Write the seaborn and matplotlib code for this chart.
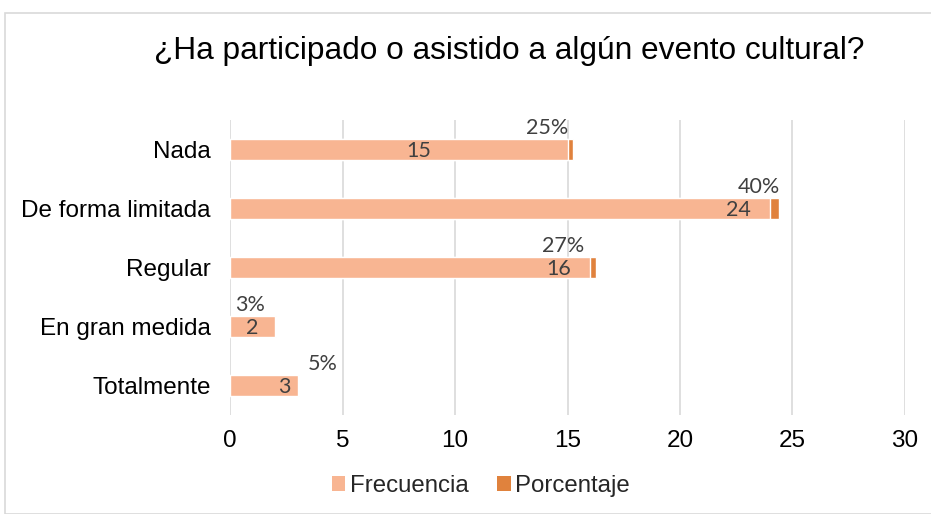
import pandas as pd
import numpy as np
import matplotlib.pyplot as plt
import seaborn as sns
from matplotlib.patches import Rectangle, Patch

# Data
categorias = ['Nada', 'De forma limitada', 'Regular', 'En gran medida', 'Totalmente']
frecuencia = [15, 24, 16, 2, 3]
porcentaje = [0.25, 0.40, 0.27, 0.03, 0.05]

df = pd.DataFrame({'categoria': categorias, 'frecuencia': frecuencia, 'porcentaje': porcentaje})
df['total'] = df['frecuencia'] + df['porcentaje']

color_frec = '#F8B592'
color_pct = '#E0823D'
gris_txt = '#404040'

sns.set_theme(style='white')
plt.rcParams['font.family'] = ['Liberation Sans', 'DejaVu Sans']

fig = plt.figure(figsize=(9.31, 5.14), dpi=100)
ax = fig.add_axes([230 / 931, 1 - 415 / 514, 675 / 931, 295 / 514])

# stacked bars: total in dark orange, frequency on top
sns.barplot(data=df, x='total', y='categoria', color=color_pct, width=0.37,
            orient='h', ax=ax, saturation=1)
sns.barplot(data=df, x='frecuencia', y='categoria', color=color_frec, width=0.37,
            orient='h', ax=ax, saturation=1)

ax.set_xlim(0, 30)
ax.set_ylim(4.5, -0.5)
ax.set_xticks(range(0, 31, 5))
ax.xaxis.grid(True, color='#D9D9D9', linewidth=1.2)
ax.set_axisbelow(True)
for s in ax.spines.values():
    s.set_visible(False)
ax.set_xlabel('')
ax.set_ylabel('')
ax.tick_params(axis='both', length=0, labelsize=17.5, colors='black')
ax.tick_params(axis='y', pad=14)
ax.tick_params(axis='x', pad=11)

# data labels
pos_frec = [8.4, 22.6, 14.6, 1.0, 2.4]
pos_pct = [14.1, 23.5, 14.8, 0.9, 4.1]
for i in range(len(categorias)):
    ax.text(pos_frec[i], i + 0.03, str(frecuencia[i]), ha='center', va='center',
            fontsize=15.5, color=gris_txt, family=['Lato', 'DejaVu Sans'])
    ax.text(pos_pct[i], i - 0.37, f'{porcentaje[i]:.0%}', ha='center', va='center',
            fontsize=15.5, color=gris_txt, family=['Lato', 'DejaVu Sans'])

fig.text(509 / 931, 1 - 51 / 514, '¿Ha participado o asistido a algún evento cultural?',
         ha='center', va='center', fontsize=22.8, color='black')

handles = [Patch(facecolor=color_frec, edgecolor='none'),
           Patch(facecolor=color_pct, edgecolor='none')]
fig.legend(handles, ['Frecuencia', 'Porcentaje'], loc='center',
           bbox_to_anchor=(481 / 931, 1 - 486 / 514), ncol=2, frameon=False,
           fontsize=17.3, handlelength=0.55, handleheight=0.55, handletextpad=0.2,
           columnspacing=1.2)

# outer chart frame
fig.add_artist(Rectangle((5 / 931, 0), 1, 1 - 13 / 514, transform=fig.transFigure,
                         fill=False, edgecolor='#D9D9D9', linewidth=1.2))

fig.savefig('out.png', dpi=100)
